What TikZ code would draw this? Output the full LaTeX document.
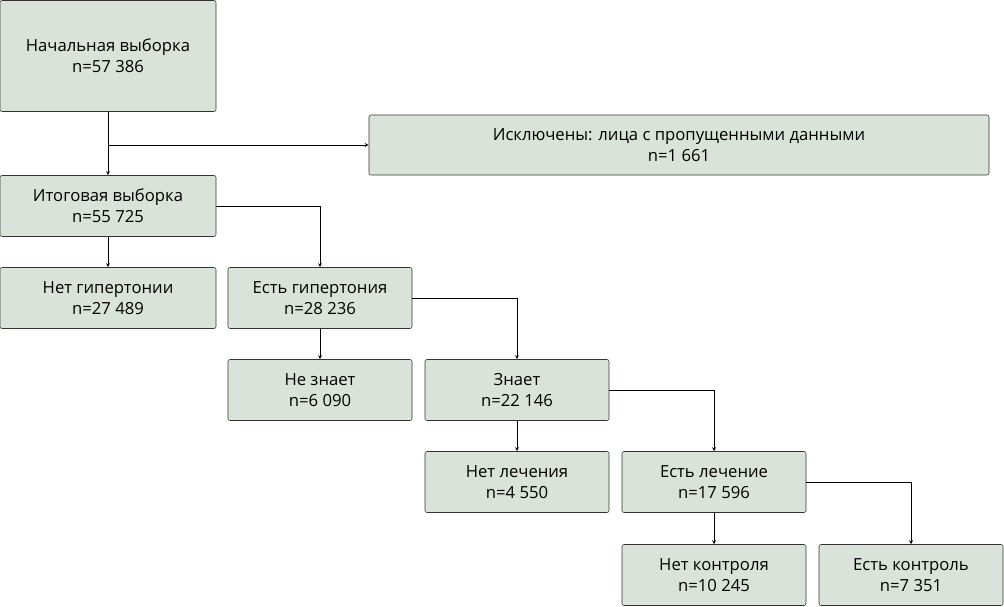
\documentclass[tikz,border=0pt]{standalone}
\usepackage{fontspec}
\setmainfont{Open Sans}
\usetikzlibrary{positioning}
\definecolor{boxfill}{HTML}{D9E3D9}
\tikzset{
  stagebox/.style={draw=black!80, fill=boxfill, rounded corners=1.5pt, align=center,
    inner sep=0pt, minimum width=184*0.75pt, minimum height=61*0.75pt,
    font=\fontsize{12.5}{16}\selectfont},
  flow/.style={->, >=stealth, thin}
}
\begin{document}
\begin{tikzpicture}[x=0.75pt, y=-0.75pt]
  \useasboundingbox (0,0) rectangle (1004,607);
  % Boxes
  \node[stagebox, minimum width=216*0.75pt, minimum height=111*0.75pt] (start) at (108,56) {Начальная выборка\\n=57 386};
  \node[stagebox, minimum width=620*0.75pt, minimum height=60*0.75pt] (excl) at (679,145) {Исключены: лица с пропущенными данными\\n=1 661};
  \node[stagebox, minimum width=216*0.75pt] (final) at (108,206) {Итоговая выборка\\n=55 725};
  \node[stagebox, minimum width=216*0.75pt] (nohyp) at (108,298) {Нет гипертонии\\n=27 489};
  \node[stagebox] (hyp) at (320,298) {Есть гипертония\\n=28 236};
  \node[stagebox] (unaware) at (320,390) {Не знает\\n=6 090};
  \node[stagebox] (aware) at (517,390) {Знает\\n=22 146};
  \node[stagebox] (notreat) at (517,482) {Нет лечения\\n=4 550};
  \node[stagebox] (treat) at (714,482) {Есть лечение\\n=17 596};
  \node[stagebox] (noctrl) at (714,575) {Нет контроля\\n=10 245};
  \node[stagebox] (ctrl) at (911,575) {Есть контроль\\n=7 351};
  % Arrows
  \draw[flow] (start) -- (final);
  \draw[flow] (108,145) -- (excl.west);
  \draw[flow] (final) -- (nohyp);
  \draw[flow] (final.east) -| (hyp.north);
  \draw[flow] (hyp) -- (unaware);
  \draw[flow] (hyp.east) -| (aware.north);
  \draw[flow] (aware) -- (notreat);
  \draw[flow] (aware.east) -| (treat.north);
  \draw[flow] (treat) -- (noctrl);
  \draw[flow] (treat.east) -| (ctrl.north);
\end{tikzpicture}
\end{document}
